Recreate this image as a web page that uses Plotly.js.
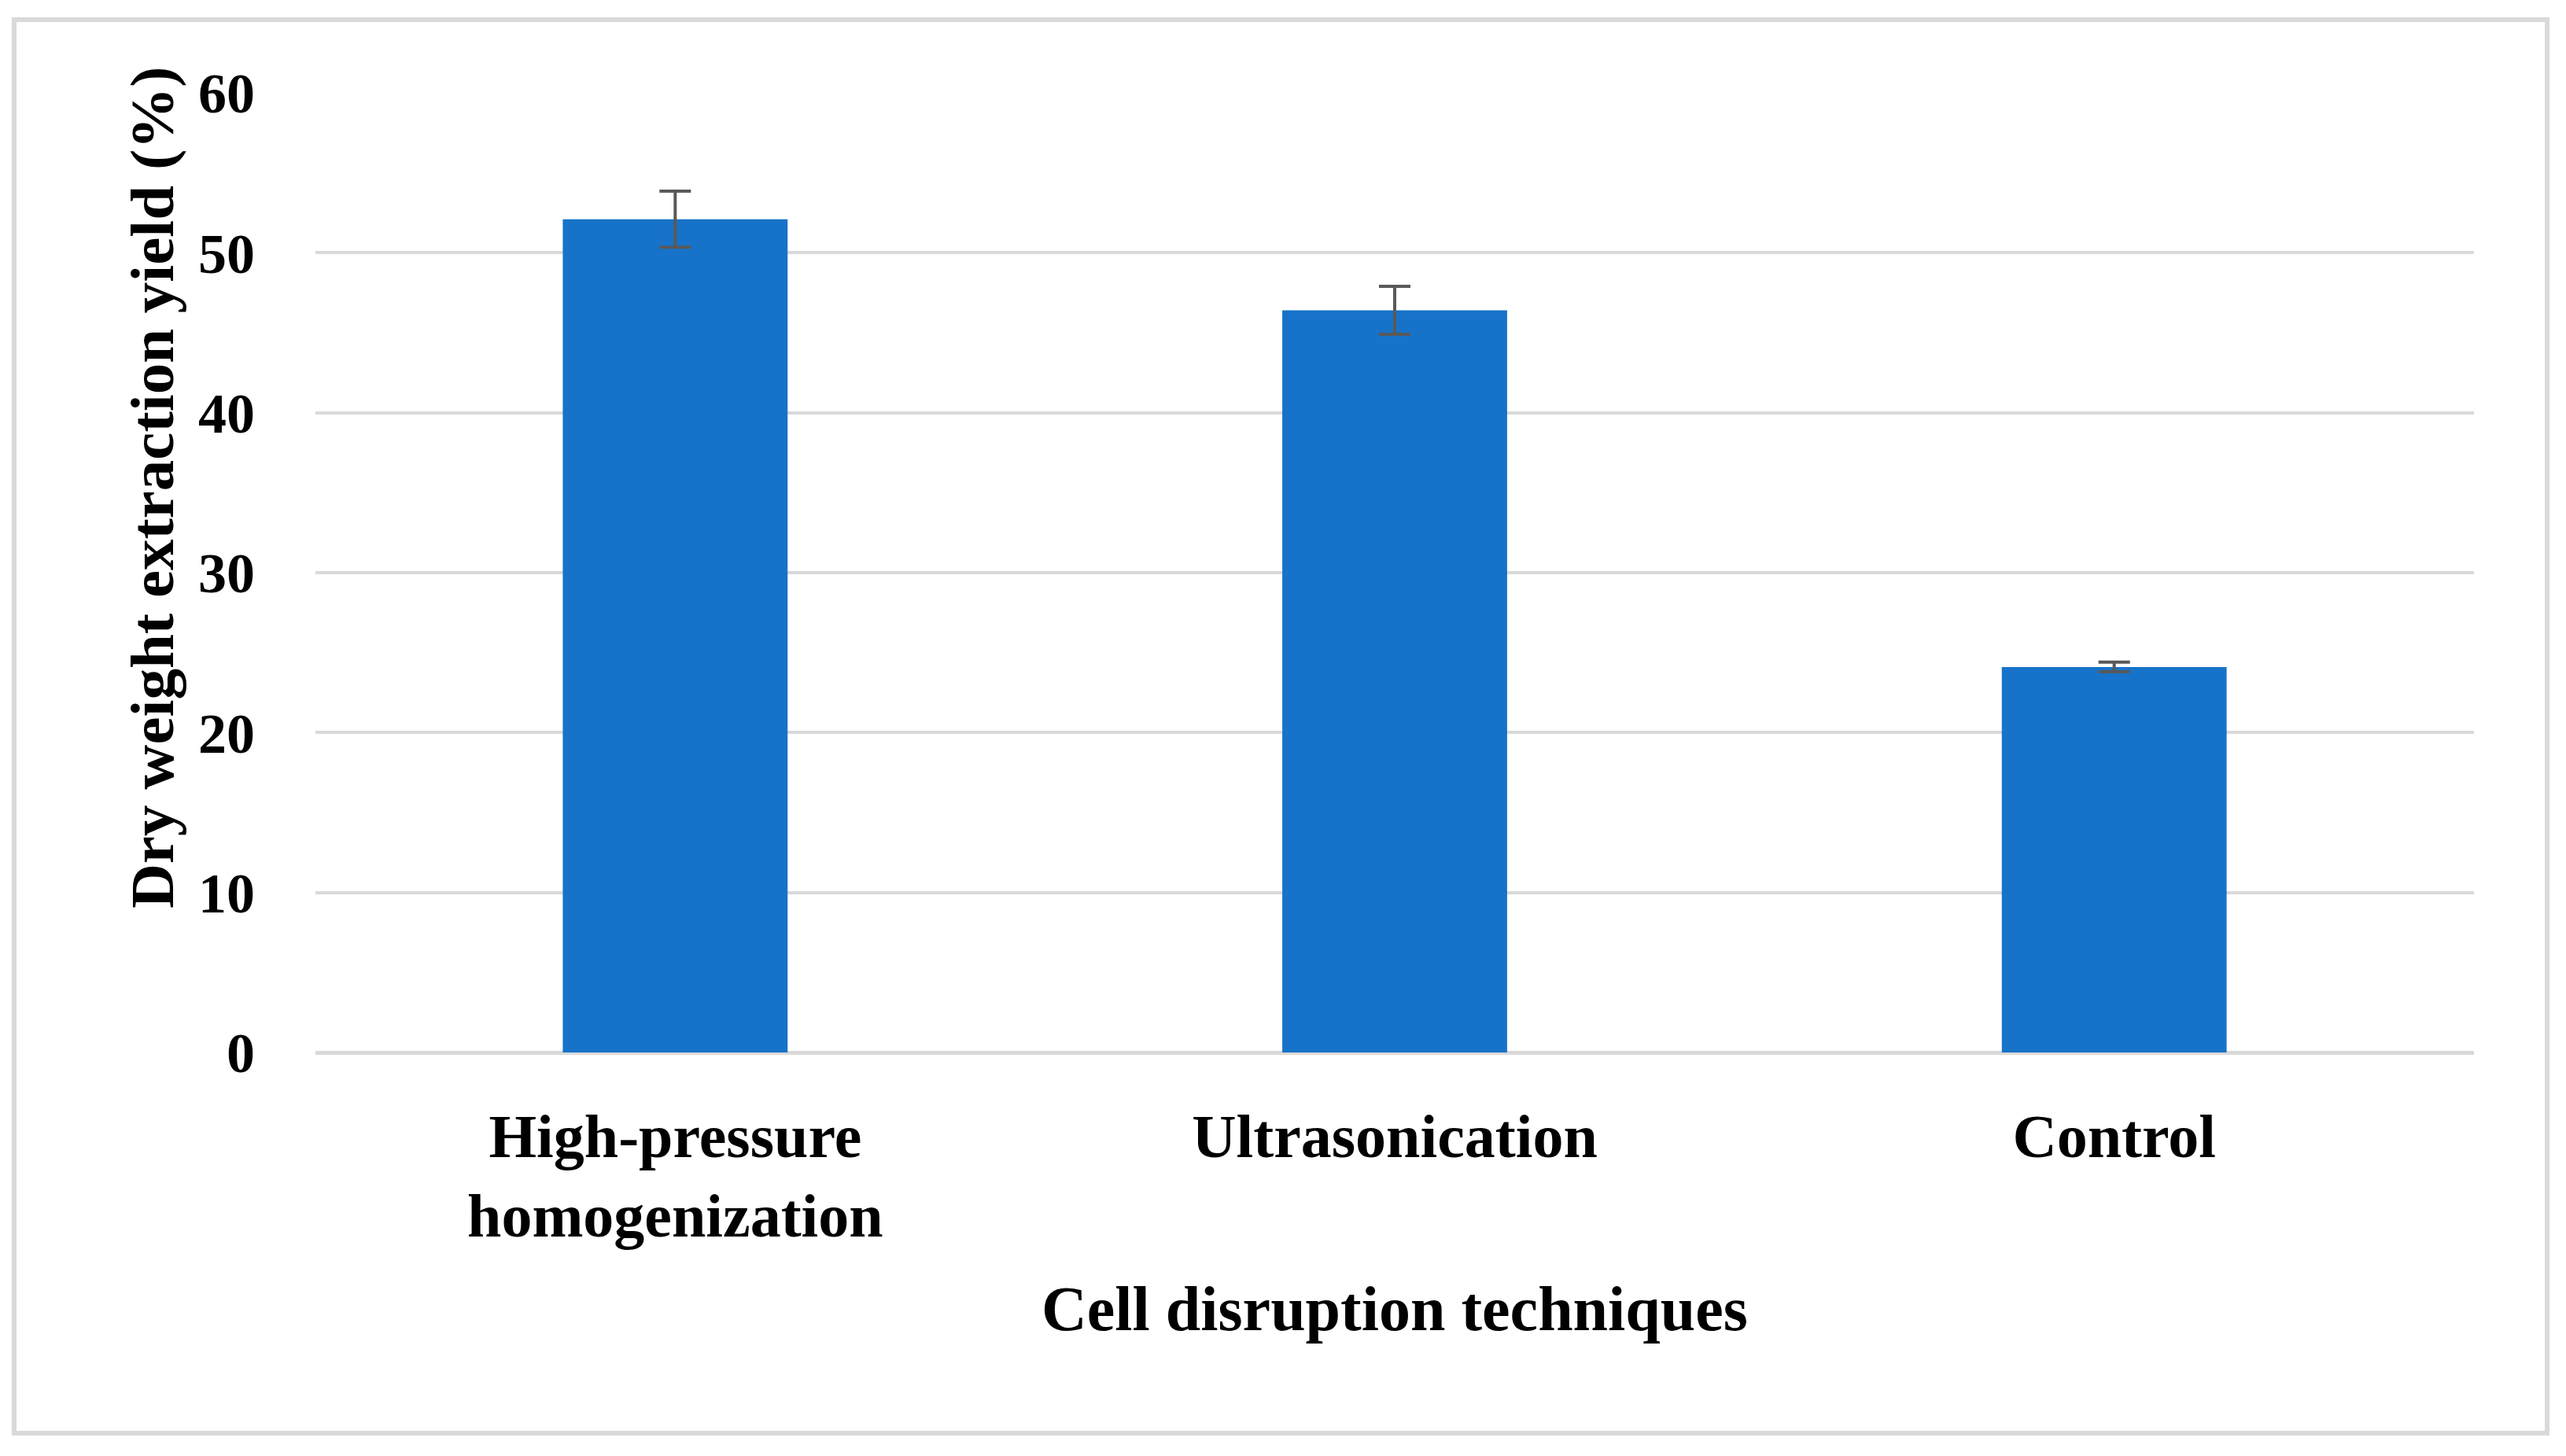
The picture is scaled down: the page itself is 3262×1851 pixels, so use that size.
<!DOCTYPE html>
<html>
<head>
<meta charset="utf-8">
<script src="https://cdn.plot.ly/plotly-3.0.1.min.js"></script>
<style>
html, body { margin: 0; padding: 0; background: #ffffff; }
#chart { width: 3262px; height: 1851px; }
</style>
</head>
<body>
<div id="chart"></div>
<script>
// Data
const categories = ["High-pressure<br>homogenization", "Ultrasonication", "Control"];
const yieldValues = [52.1, 46.4, 24.1];
const yieldErrors = [1.75, 1.5, 0.3];
const yTickValues = [0, 10, 20, 30, 40, 50, 60];

const FONT = "'Liberation Serif', 'Times New Roman', serif";

const trace = {
  type: "bar",
  x: categories,
  y: yieldValues,
  marker: { color: "#1773C9", line: { width: 0 } },
  error_y: {
    type: "data",
    array: yieldErrors,
    visible: true,
    color: "#595959",
    thickness: 4,
    width: 20
  },
  hoverinfo: "x+y"
};

const layout = {
  width: 3262,
  height: 1851,
  paper_bgcolor: "#ffffff",
  plot_bgcolor: "#ffffff",
  margin: { l: 401, r: 117, t: 118, b: 513 },
  bargap: 0.6875,
  showlegend: false,
  font: { family: FONT, color: "#000000" },
  xaxis: {
    type: "category",
    showgrid: false,
    showline: false,
    zeroline: false,
    ticks: "",
    ticklabelstandoff: 54,
    tickfont: { family: FONT, size: 78, color: "#000000", weight: "bold" },
    title: {
      text: "Cell disruption techniques",
      font: { family: FONT, size: 80, color: "#000000", weight: "bold" },
      standoff: 46
    }
  },
  yaxis: {
    range: [0, 60],
    tickvals: yTickValues,
    showgrid: true,
    gridcolor: "#D9D9D9",
    gridwidth: 4,
    zeroline: true,
    zerolinecolor: "#D9D9D9",
    zerolinewidth: 5,
    showline: false,
    ticks: "",
    ticklabelstandoff: 76,
    tickfont: { family: FONT, size: 72, color: "#000000", weight: "bold" }
  },
  annotations: [
    {
      text: "Dry weight extraction yield (%)",
      xref: "paper", yref: "paper",
      x: -0.0758, y: 0.5885,
      xanchor: "center", yanchor: "middle",
      textangle: -90,
      showarrow: false,
      font: { family: FONT, size: 79, color: "#000000", weight: "bold" }
    }
  ],
  shapes: [
    {
      type: "rect",
      xref: "paper", yref: "paper",
      x0: -0.1396, x1: 1.0339,
      y0: -0.3967, y1: 1.0762,
      line: { color: "#D9D9D9", width: 6 },
      fillcolor: "rgba(0,0,0,0)",
      layer: "below"
    }
  ]
};

Plotly.newPlot("chart", [trace], layout, { displayModeBar: false, staticPlot: true });
</script>
</body>
</html>
